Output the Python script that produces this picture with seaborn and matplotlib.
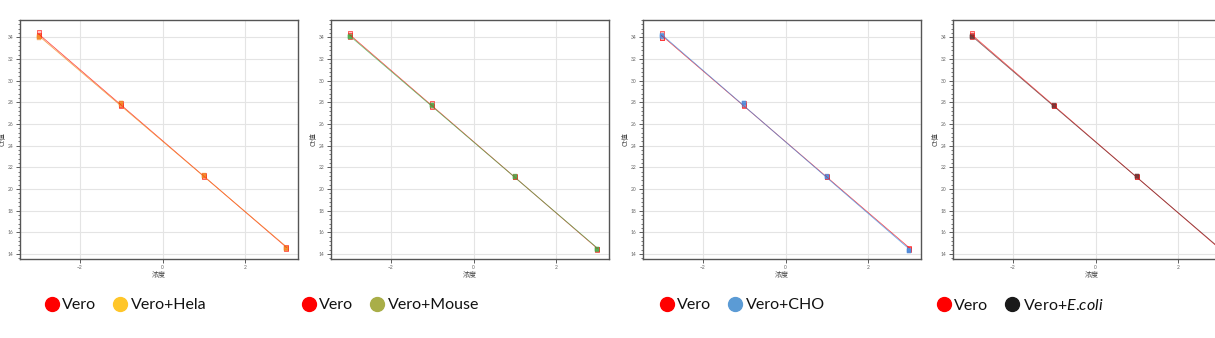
import numpy as np
import pandas as pd
import matplotlib
matplotlib.use("Agg")
import matplotlib.pyplot as plt
import seaborn as sns
from matplotlib.lines import Line2D
from matplotlib.ticker import AutoMinorLocator

sns.set_theme(style="white")
plt.rcParams['font.family'] = ['Lato', 'Noto Sans CJK SC', 'DejaVu Sans']
plt.rcParams['mathtext.fontset'] = 'custom'
plt.rcParams['mathtext.it'] = 'Lato:italic'
plt.rcParams['mathtext.rm'] = 'Lato'

# ---- data ----
log_conc = [-3, -3, -3, -1, -1, -1, 1, 1, 1, 3, 3, 3]

vero_hela_ref = [34.5, 34.2, 34.1, 27.9, 27.7, 27.8, 21.2, 21.1, 21.3, 14.6, 14.5, 14.7]
hela = [34.1, 34.0, 33.9, 27.9, 27.8, 27.9, 21.3, 21.2, 21.2, 14.6, 14.6, 14.5]

vero_mouse_ref = [34.4, 34.2, 34.0, 27.9, 27.7, 27.6, 21.1, 21.1, 21.2, 14.5, 14.4, 14.5]
mouse = [34.1, 34.0, 34.0, 27.8, 27.8, 27.7, 21.2, 21.1, 21.1, 14.5, 14.5, 14.4]

vero_cho_ref = [34.4, 33.9, 33.9, 27.9, 27.7, 27.8, 21.1, 21.1, 21.2, 14.6, 14.4, 14.5]
cho = [34.2, 34.1, 34.0, 27.9, 27.9, 27.8, 21.2, 21.1, 21.1, 14.4, 14.3, 14.3]

vero_ecoli_ref = [34.4, 34.2, 34.0, 27.8, 27.7, 27.7, 21.2, 21.1, 21.1, 14.5, 14.5, 14.4]
ecoli = [34.1, 34.0, 34.0, 27.7, 27.7, 27.8, 21.2, 21.1, 21.2, 14.5, 14.4, 14.5]

labels_ref = "Vero"
labels_mix = ["Vero+Hela", "Vero+Mouse", "Vero+CHO", r"Vero+$\mathit{E}$.$\mathit{coli}$"]
legend_colors = ["#FFC629", "#A9AE48", "#5B9BD5", "#1A1A1A"]
line_colors = ["#F28C28", "#4CAF50", "#4A90E2", "#6B3A3A"]
vero_color = "#FF0000"

x_ticks = [-2, 0, 2]
y_ticks = [14, 16, 18, 20, 22, 24, 26, 28, 30, 32, 34]

panels = [
    (vero_hela_ref, hela),
    (vero_mouse_ref, mouse),
    (vero_cho_ref, cho),
    (vero_ecoli_ref, ecoli),
]

fig = plt.figure(figsize=(12.15, 3.38), dpi=100)

ax_lefts = [20, 331, 643, 953]
ax_w = 278 / 1215
ax_bottom = 1 - 259 / 338
ax_h = (259 - 20) / 338
legend_x = [44, 301, 659, 936]

for i, (ref, mix) in enumerate(panels):
    ax = fig.add_axes([ax_lefts[i] / 1215, ax_bottom, ax_w, ax_h])
    df = pd.DataFrame({"x": log_conc * 2,
                       "y": list(ref) + list(mix),
                       "grp": ["Vero"] * len(ref) + ["mix"] * len(mix)})
    dref = df[df.grp == "Vero"]
    dmix = df[df.grp == "mix"]
    sns.regplot(data=dref, x="x", y="y", ci=None, ax=ax, color=vero_color,
                scatter=False, line_kws=dict(lw=0.6, alpha=0.7))
    sns.regplot(data=dmix, x="x", y="y", ci=None, ax=ax, color=line_colors[i],
                scatter=False, line_kws=dict(lw=0.6, alpha=0.8))
    sns.scatterplot(data=dref, x="x", y="y", ax=ax, marker="s", s=9,
                    color="#FFB0B0", edgecolor=vero_color, linewidth=0.5, alpha=0.8, legend=False)
    sns.scatterplot(data=dmix, x="x", y="y", ax=ax, marker="s", s=5,
                    color=line_colors[i], edgecolor=line_colors[i], linewidth=0.3, alpha=0.6, legend=False)

    ax.set_xlim(-3.45, 3.28)
    ax.set_ylim(13.55, 35.6)
    ax.set_xticks(x_ticks)
    ax.set_yticks(y_ticks)
    ax.yaxis.set_minor_locator(AutoMinorLocator(5))
    ax.tick_params(axis="both", which="major", labelsize=3.5, labelcolor="#666666",
                   length=3, width=0.6, color="#444444", pad=1.5, left=True, bottom=True)
    ax.tick_params(axis="y", which="minor", length=1.8, width=0.5, color="#444444", left=True)
    ax.grid(True, which="major", color="#e4e4e4", lw=0.8)
    for s in ax.spines.values():
        s.set_color("#555555")
        s.set_linewidth(1.0)
    ax.set_xlabel("浓度", fontsize=5, family=['Noto Sans CJK SC', 'DejaVu Sans'], labelpad=0.5, color="#444444")
    ax.set_ylabel("Ct值", fontsize=5, family=['Noto Sans CJK SC', 'DejaVu Sans'], labelpad=1, color="#444444")

    handles = [
        Line2D([], [], marker="o", ls="", markersize=10, markerfacecolor=vero_color,
               markeredgecolor=vero_color, label=labels_ref),
        Line2D([], [], marker="o", ls="", markersize=10, markerfacecolor=legend_colors[i],
               markeredgecolor=legend_colors[i], label=labels_mix[i]),
    ]
    fig.legend(handles=handles, loc="center left", ncol=2, frameon=False,
               bbox_to_anchor=(legend_x[i] / 1215, 1 - 305 / 338),
               prop=dict(family=['Lato'], size=11.5), labelcolor="#111111",
               handletextpad=0.15, columnspacing=1.0,
               handlelength=1.0, borderaxespad=0, borderpad=0)

fig.savefig("out.png", dpi=100, facecolor="white")
